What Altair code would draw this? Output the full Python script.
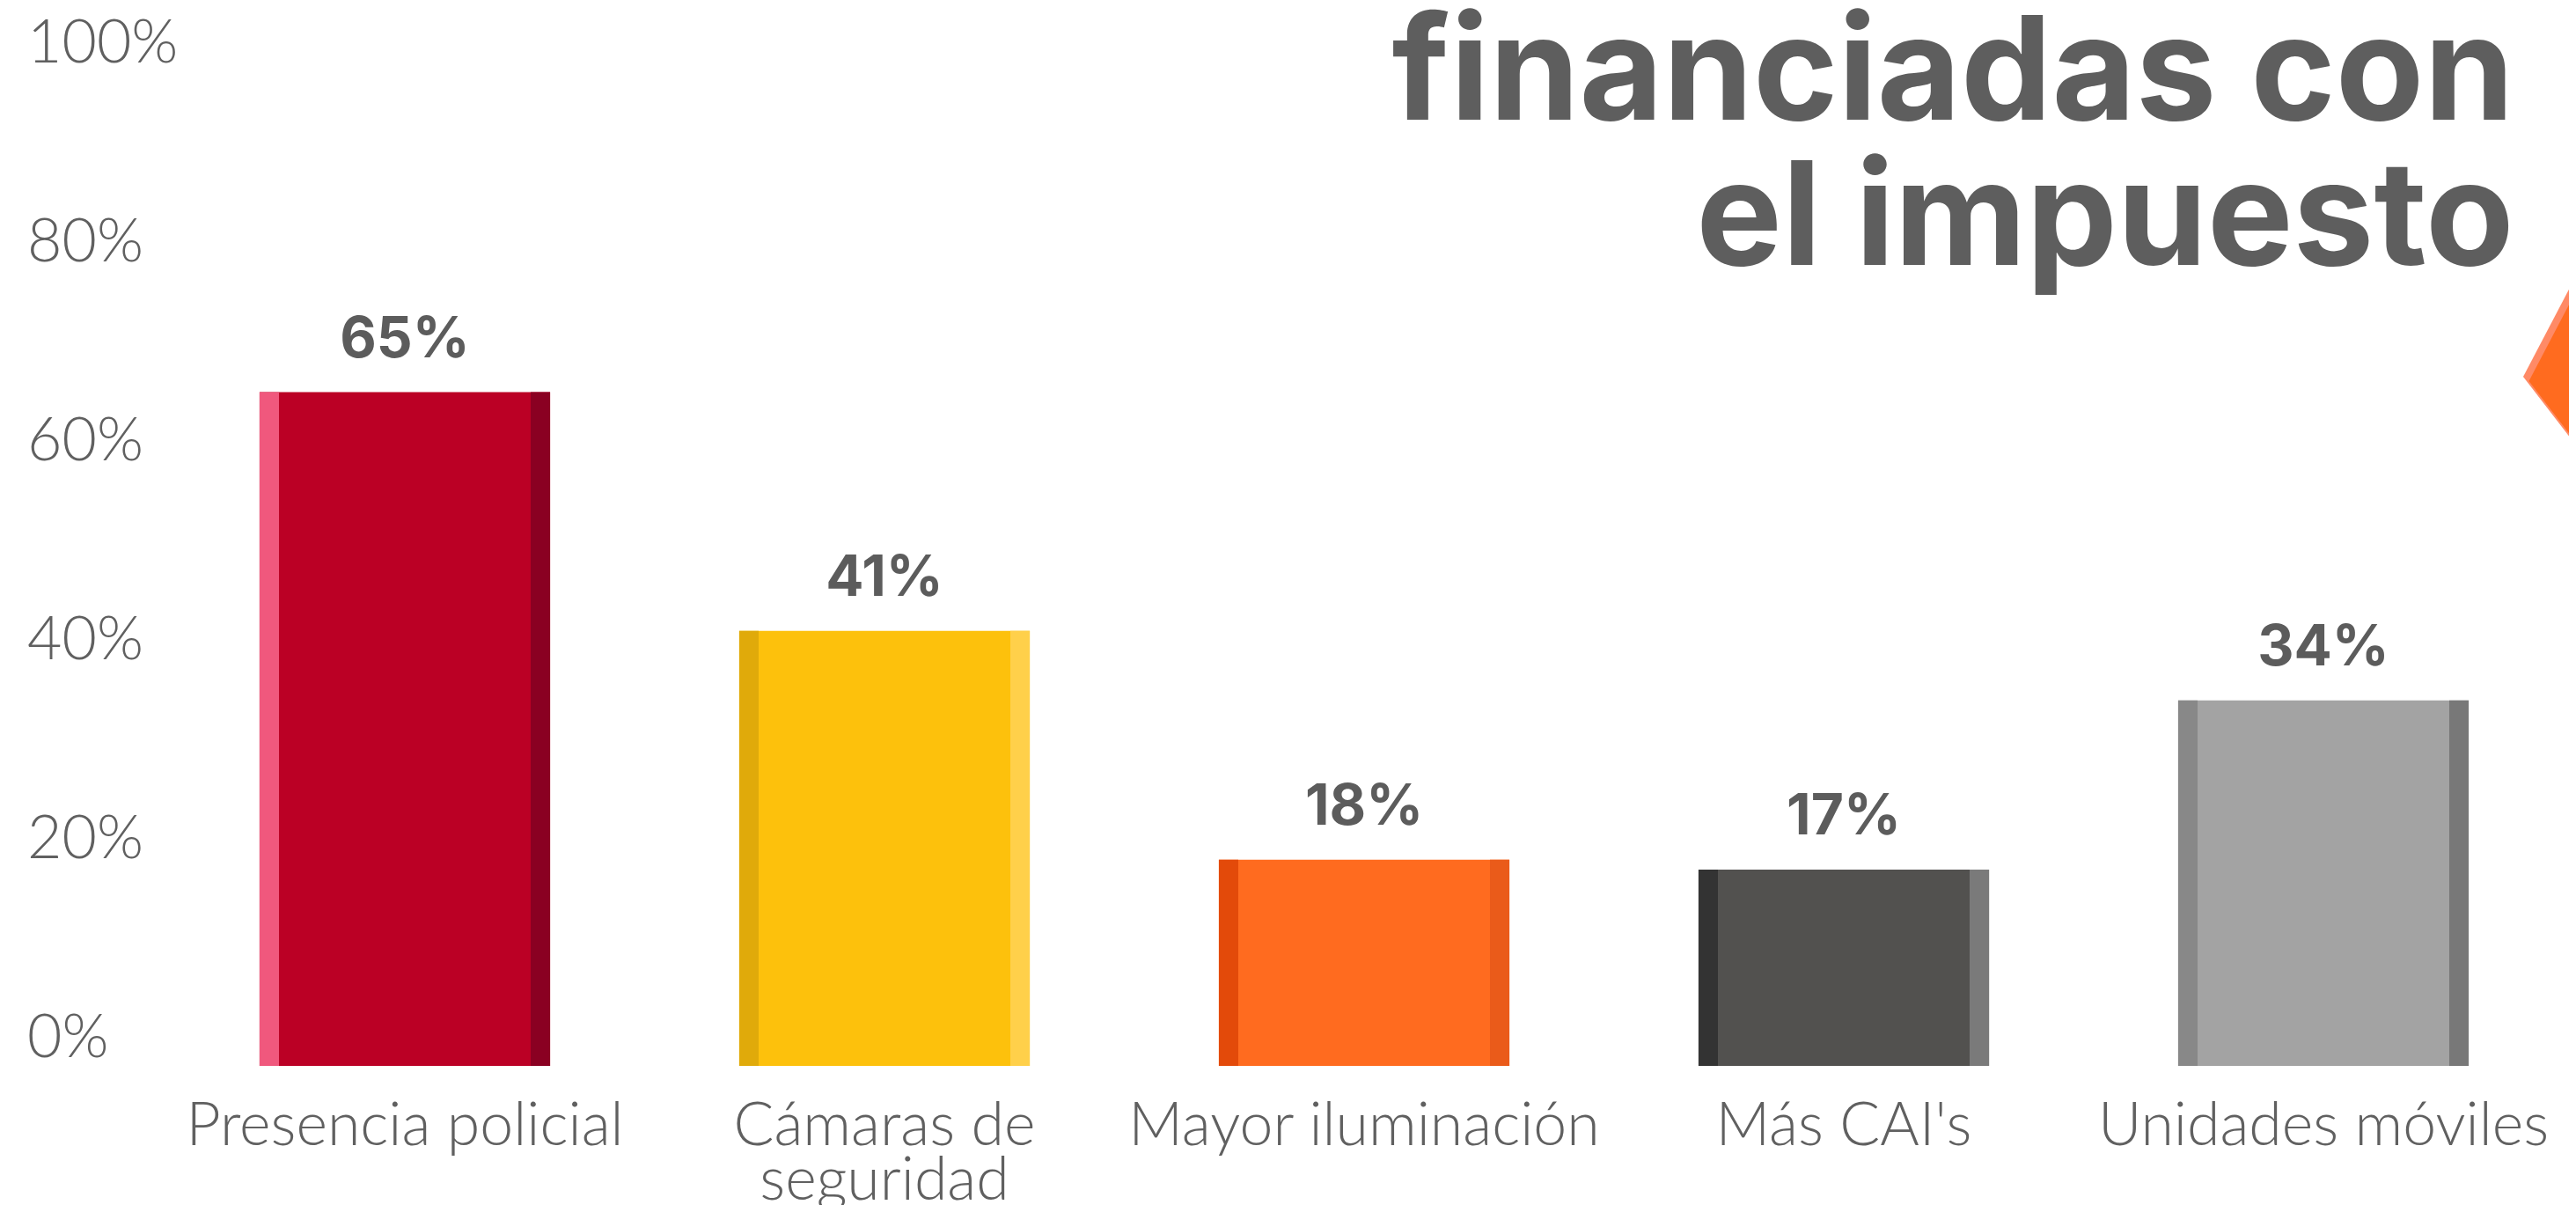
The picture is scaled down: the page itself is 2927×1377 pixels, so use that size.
import altair as alt
import pandas as pd

# ---- data ----
categories = ["Presencia policial", "Cámaras de seguridad", "Mayor iluminación", "Más CAI's", "Unidades móviles"]
values = [65, 41, 18, 17, 34]
value_labels = ["65%", "41%", "18%", "17%", "34%"]
y_ticks = [0, 20, 40, 60, 80, 100]
title_lines = ["financiadas con", "el impuesto"]

# ---- styles ----
main_colors = ["#bb0025", "#fdc10c", "#ff6b1f", "#52514f", "#a3a3a3"]
left_colors = ["#f0587d", "#e0aa0a", "#e34a0a", "#333333", "#888888"]
right_colors = ["#8a0022", "#ffd04a", "#ea5b1a", "#7a7a7a", "#787878"]
TEXT_GRAY = "#606060"
BASE = -2.74  # bars start slightly below the 0% label line

df = pd.DataFrame({"cat": categories, "value": values, "label": value_labels})

x = alt.X(
    "cat:N", sort=categories,
    scale=alt.Scale(paddingInner=0.394, paddingOuter=0.197),
    axis=alt.Axis(
        title=None, labelAngle=0, domain=False, ticks=False, grid=False,
        labelFont="Lato", labelFontWeight=300, labelFontSize=68, labelColor=TEXT_GRAY,
        labelPadding=35, labelLineHeight=62, labelLimit=0,
        labelExpr="datum.label == 'Cámaras de seguridad' ? ['Cámaras de', 'seguridad'] : datum.label",
    ),
)
y = alt.Y(
    "value:Q",
    scale=alt.Scale(domain=[BASE, 100], nice=False, zero=False),
    axis=alt.Axis(
        title=None, values=y_ticks, labelExpr="datum.value + '%'",
        domain=False, ticks=False, grid=False, labelAlign="left", labelPadding=157,
        labelFont="Lato", labelFontWeight=300, labelFontSize=68, labelColor=TEXT_GRAY,
    ),
)

base = alt.Chart(df)

main = base.mark_bar().encode(
    x=x, y=y, y2=alt.datum(BASE),
    color=alt.Color("cat:N", scale=alt.Scale(domain=categories, range=main_colors), legend=None),
)
left = base.mark_bar(width=22, xOffset=-154).encode(
    x=x, y=y, y2=alt.datum(BASE),
    color=alt.Color("cat:N", scale=alt.Scale(domain=categories, range=left_colors), legend=None),
)
right = base.mark_bar(width=22, xOffset=154).encode(
    x=x, y=y, y2=alt.datum(BASE),
    color=alt.Color("cat:N", scale=alt.Scale(domain=categories, range=right_colors), legend=None),
)
text = base.mark_text(
    font="Inter", fontWeight="bold", fontSize=64, color="#5c5c5c",
    baseline="alphabetic", dy=-40,
).encode(x=x, y=y, text="label:N")

# decorative orange diamond at the right edge
deco_df = pd.DataFrame({"k": [0]})
shape_path = "M-1,0 L0,-1.907 L1,0 L0,1.3 Z"
deco_light = alt.Chart(deco_df).mark_point(
    shape=shape_path, filled=True, size=11664, color="#ff8a66", opacity=1, strokeWidth=0
).encode(x=alt.value(2733.5), y=alt.value(378))
deco_main = alt.Chart(deco_df).mark_point(
    shape=shape_path, filled=True, size=11664, color="#ff6b1f", opacity=1, strokeWidth=0
).encode(x=alt.value(2740), y=alt.value(383))

chart = alt.layer(main, left, right, text, deco_light, deco_main).resolve_scale(
    color="independent"
).properties(
    width=2725, height=1161,
    padding={"left": 179.5, "top": 42, "right": 6.5, "bottom": 158},
    autosize=alt.AutoSizeParams(type="none"),
    background="white",
    title=alt.TitleParams(
        text=title_lines, anchor="end", orient="top", frame="group",
        font="Inter", fontSize=164, fontWeight="bold", color="#5e5e5e",
        lineHeight=165, dx=-56, dy=323,
    ),
).configure_view(strokeWidth=0)

chart.save("out.html", embed_options={"renderer": "svg", "actions": False})
